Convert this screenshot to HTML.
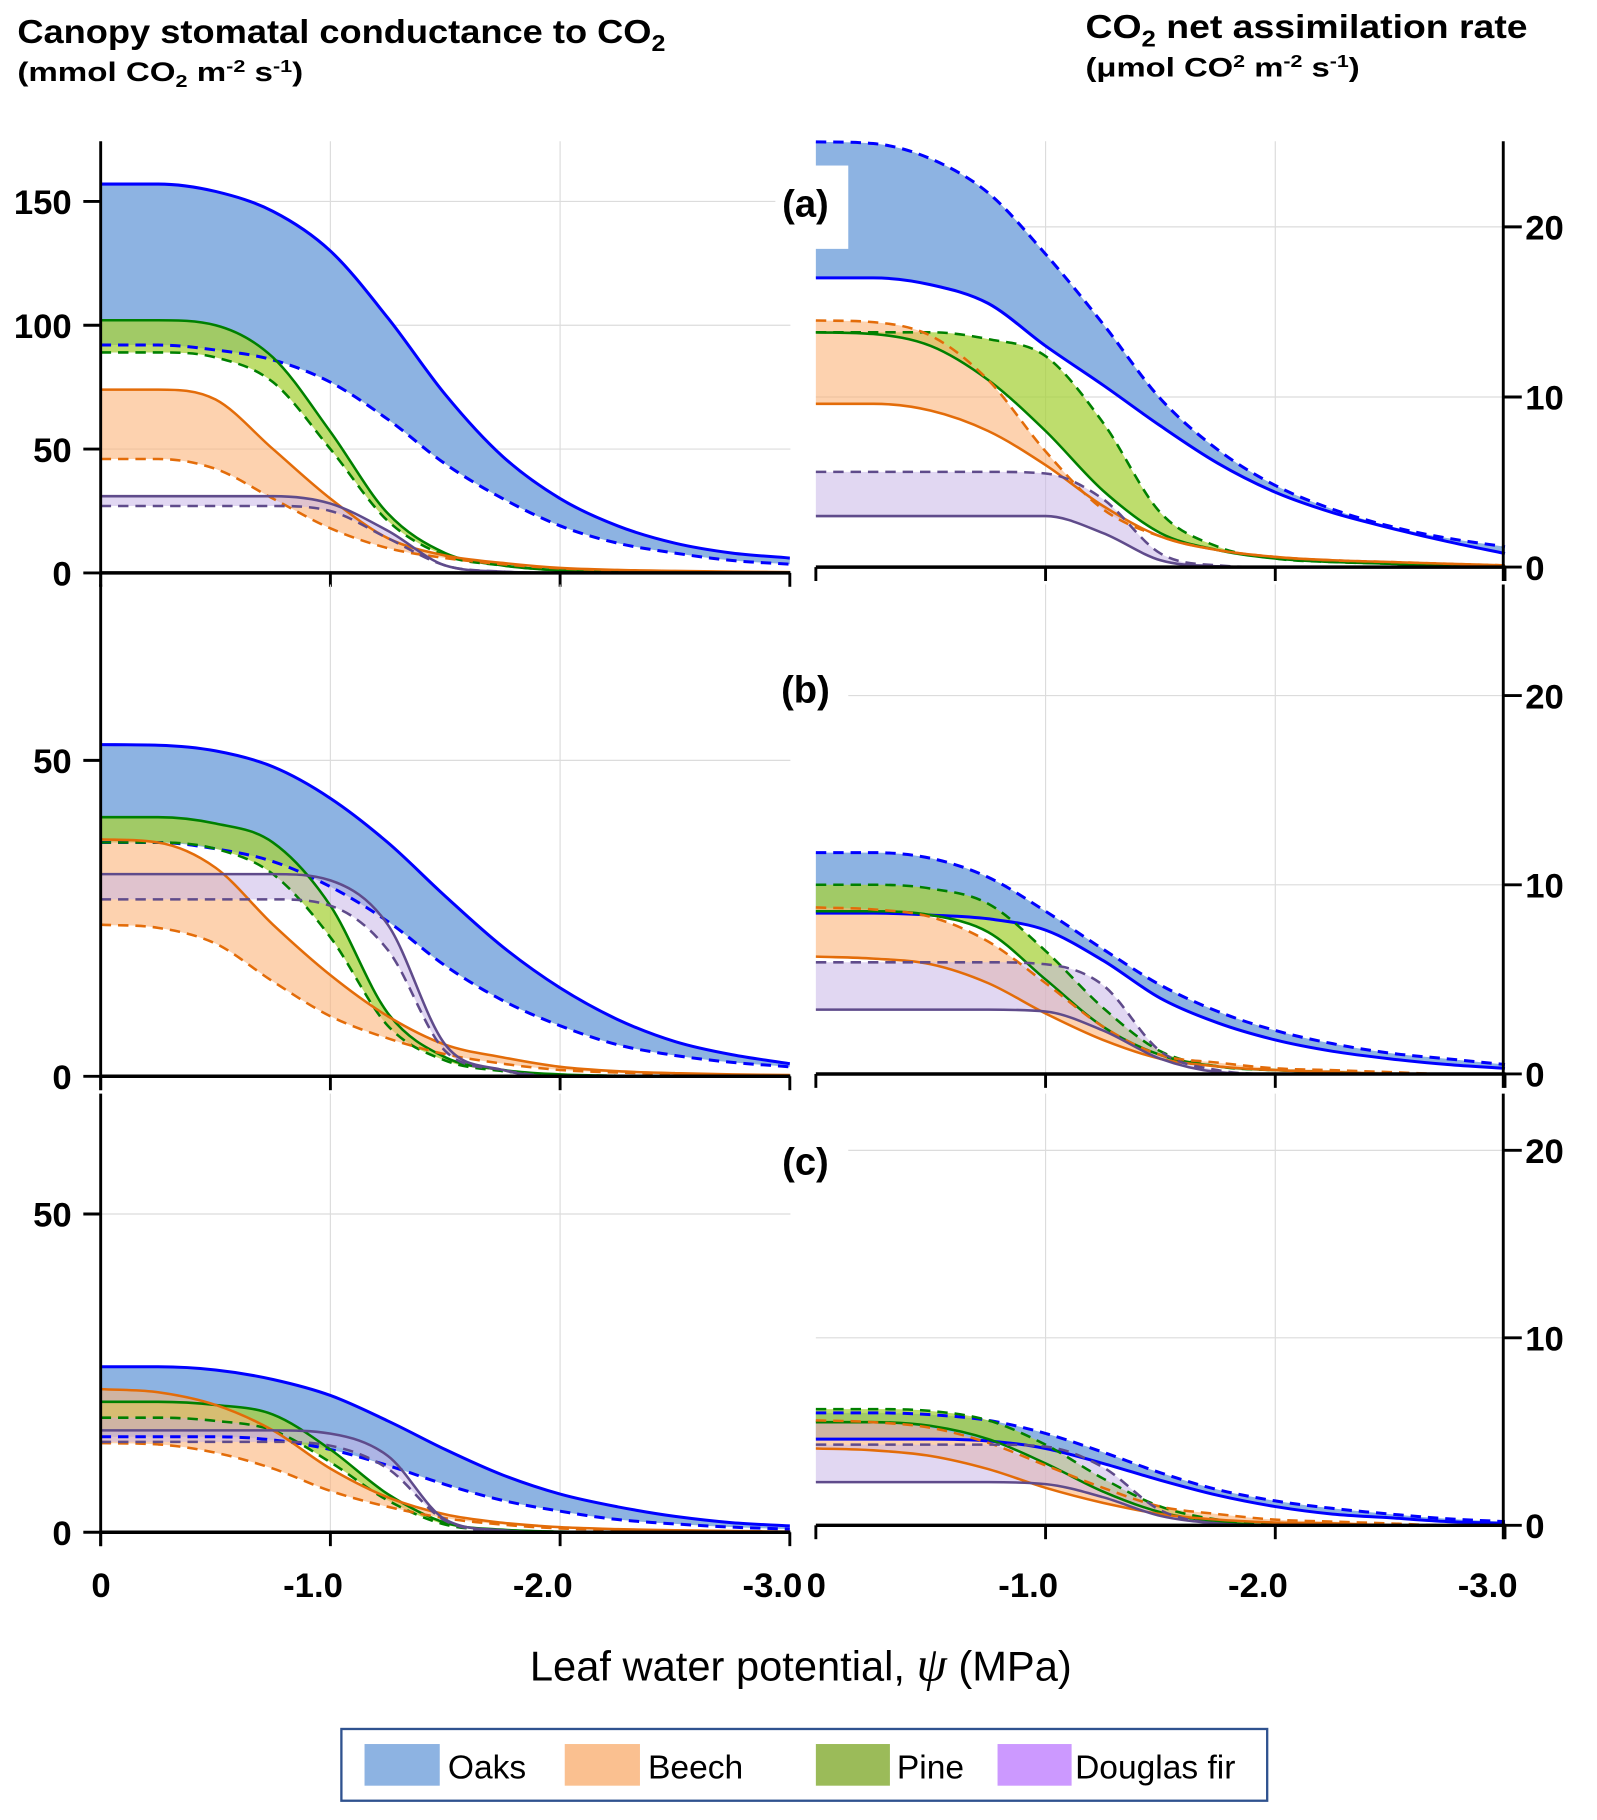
<!DOCTYPE html>
<html><head><meta charset="utf-8"><style>
html,body{margin:0;padding:0;background:#fff;}
svg{display:block;}
text{font-family:"Liberation Sans",Arial,sans-serif;}
</style></head><body>
<svg id="fig" xmlns="http://www.w3.org/2000/svg" width="1597" height="1820" viewBox="0 0 1380 1572.6">
<rect width="1380" height="1573" fill="#fff"/>
<g>
<text x="15" y="37" font-size="29" font-weight="bold" textLength="560" lengthAdjust="spacingAndGlyphs">Canopy stomatal conductance to CO<tspan font-size="20" dy="7">2</tspan></text>
<text x="15" y="70" font-size="23" font-weight="bold" textLength="247" lengthAdjust="spacingAndGlyphs">(mmol CO<tspan font-size="15" dy="5">2</tspan><tspan dy="-5"> m</tspan><tspan font-size="15" dy="-8">-2</tspan><tspan dy="8"> s</tspan><tspan font-size="15" dy="-8">-1</tspan><tspan dy="8">)</tspan></text>
</g>
<g>
<text x="938" y="33" font-size="29" font-weight="bold" textLength="382" lengthAdjust="spacingAndGlyphs">CO<tspan font-size="20" dy="7">2</tspan><tspan dy="-7"> net assimilation rate</tspan></text>
<text x="938" y="66" font-size="23" font-weight="bold" textLength="237" lengthAdjust="spacingAndGlyphs">(μmol CO<tspan font-size="15" dy="-8">2</tspan><tspan dy="8"> m</tspan><tspan font-size="15" dy="-8">-2</tspan><tspan dy="8"> s</tspan><tspan font-size="15" dy="-8">-1</tspan><tspan dy="8">)</tspan></text>
</g>
<g id="plots"></g>
<g id="labels"></g>
<text x="692" y="1452" font-size="36" text-anchor="middle">Leaf water potential,  <tspan font-family="Liberation Serif,serif" font-style="italic" font-size="42">ψ</tspan> (MPa)</text>
<g>
<rect x="295" y="1494" width="800" height="62" fill="#fff" stroke="#2f528f" stroke-width="2"/>
<g><rect x="315" y="1507" width="65" height="36" fill="#8db3e2"/><text x="387" y="1537" font-size="29">Oaks</text></g>
<g><rect x="488" y="1507" width="65" height="36" fill="#fac090"/><text x="560" y="1537" font-size="29">Beech</text></g>
<g><rect x="705" y="1507" width="64" height="36" fill="#9bbb59"/><text x="775" y="1537" font-size="29">Pine</text></g>
<g><rect x="862" y="1507" width="64" height="36" fill="#cc99ff"/><text x="929" y="1537" font-size="29">Douglas fir</text></g>
</g>
</svg>
<script>
// leaf water potential magnitudes (MPa, plotted as negative)
const psi = [0,0.25,0.5,0.75,1.0,1.25,1.5,1.75,2.0,2.25,2.5,2.75,3.0];
// Panel (a) left: stomatal conductance
const aL_oaks_hi = [157,157,154,146,130,103,72,47,30,19,12,8,6];
const aL_oaks_lo = [92,92,90,86,77,62,44,30,19,12,8,5,3.5];
const aL_pine_hi = [102,102,100,87,57,24,8,3,1,0.5,0.3,0.2,0.1];
const aL_pine_lo = [89,89,87,77,50,21,7,3,1,0.5,0.3,0.2,0.1];
const aL_beech_hi = [74,74,70,50,30,14,7,4,2,1.2,0.8,0.5,0.3];
const aL_beech_lo = [46,46,42,30,18,10,6,3.5,1.8,1,0.6,0.4,0.2];
const aL_fir_hi = [31,31,31,31,28,17,3,0.5,0,0,0,0,0];
const aL_fir_lo = [27,27,27,27,25,14,3,0.5,0,0,0,0,0];
// Panel (a) right: net assimilation
const aR_oaks_hi = [25,24.9,24,22,18.4,14.3,9.9,6.9,4.8,3.4,2.4,1.7,1.2];
const aR_oaks_lo = [17,17,16.6,15.5,13,10.7,8.3,6.1,4.4,3.2,2.3,1.5,0.8];
const aR_pine_hi = [13.8,13.8,13.8,13.4,12.4,8.5,3.2,1.2,0.5,0.3,0.2,0.1,0];
const aR_pine_lo = [13.8,13.7,13,11,8,4.5,2,1,0.5,0.3,0.2,0.1,0];
const aR_beech_hi = [14.5,14.4,13.6,11,6.8,3.4,1.8,1,0.6,0.4,0.3,0.2,0.1];
const aR_beech_lo = [9.6,9.6,9.2,8,6,3.6,1.8,1,0.6,0.4,0.3,0.2,0.1];
const aR_fir_hi = [5.6,5.6,5.6,5.6,5.5,4,0.8,0.1,0,0,0,0,0];
const aR_fir_lo = [3,3,3,3,3,2,0.4,0.05,0,0,0,0,0];
// Panel (b) left
const bL_oaks_hi = [52.5,52.4,51.5,49,44,37,28.5,20.5,14,9,5.5,3.4,2];
const bL_oaks_lo = [37,37,36,34,30,24.5,17.5,12,8,5,3.3,2.2,1.5];
const bL_pine_hi = [41,41,40,37,27,10,3,1,0.3,0.1,0,0,0];
const bL_pine_lo = [37,37,36,32,22,8,2.5,0.8,0.2,0.1,0,0,0];
const bL_beech_hi = [37.5,37,33,24,16,9.5,5,3,1.5,0.8,0.5,0.3,0.2];
const bL_beech_lo = [24,23.5,21,15,9.5,6,3.5,2,1,0.6,0.4,0.2,0.1];
const bL_fir_hi = [32,32,32,32,31,24,5,1,0,0,0,0,0];
const bL_fir_lo = [28,28,28,28,27,20,4,1,0,0,0,0,0];
// Panel (b) right
const bR_oaks_hi = [11.7,11.7,11.4,10.4,8.6,6.6,4.7,3.3,2.3,1.6,1.1,0.8,0.5];
const bR_oaks_lo = [8.5,8.5,8.4,8.2,7.6,6,4,2.7,1.8,1.2,0.8,0.5,0.3];
const bR_pine_hi = [10,10,9.8,9,6.5,3.5,1.2,0.4,0.2,0.1,0,0,0];
const bR_pine_lo = [8.6,8.6,8.4,7.5,5,2.5,1,0.4,0.2,0.1,0,0,0];
const bR_beech_hi = [8.8,8.7,8.3,7,4.8,2.5,1,0.6,0.3,0.2,0.1,0,0];
const bR_beech_lo = [6.2,6.1,5.8,4.8,3.2,1.8,0.8,0.4,0.2,0.1,0,0,0];
const bR_fir_hi = [5.9,5.9,5.9,5.9,5.8,4.7,1.2,0.2,0,0,0,0,0];
const bR_fir_lo = [3.4,3.4,3.4,3.4,3.3,2.3,0.8,0.1,0,0,0,0,0];
// Panel (c) left
const cL_oaks_hi = [26,26,25.5,24,21.5,17.5,13,9,6,4,2.5,1.5,1];
const cL_oaks_lo = [15,15,15,14.5,13,10.5,7.5,5,3.3,2,1.3,0.8,0.5];
const cL_pine_hi = [20.5,20.5,20,18.5,13,6,1.5,0.4,0.1,0,0,0,0];
const cL_pine_lo = [18,18,17.5,16,11,5,1.2,0.3,0.1,0,0,0,0];
const cL_beech_hi = [22.5,22,20,16,10,5.5,2.8,1.5,0.8,0.5,0.3,0.2,0.1];
const cL_beech_lo = [14,13.8,12.5,10,6.5,4,2.2,1.2,0.6,0.4,0.2,0.1,0];
const cL_fir_hi = [16,16,16,16,15.5,12,2,0.3,0,0,0,0,0];
const cL_fir_lo = [14.2,14.2,14.2,14.2,13.6,10,1.8,0.2,0,0,0,0,0];
// Panel (c) right
const cR_oaks_hi = [6,6,5.9,5.6,4.9,3.9,2.8,1.9,1.3,0.9,0.6,0.35,0.2];
const cR_oaks_lo = [4.6,4.6,4.6,4.5,4.1,3.3,2.4,1.6,1,0.6,0.4,0.2,0.1];
const cR_pine_hi = [6.2,6.2,6.1,5.6,4.3,2.5,1,0.3,0.1,0,0,0,0];
const cR_pine_lo = [5.5,5.5,5.3,4.6,3.3,1.8,0.7,0.2,0,0,0,0,0];
const cR_beech_hi = [5.6,5.5,5.2,4.4,3.2,2,1,0.6,0.3,0.2,0.1,0,0];
const cR_beech_lo = [4.1,4,3.7,3,2,1.2,0.6,0.3,0.15,0.1,0,0,0];
const cR_fir_hi = [4.3,4.3,4.3,4.3,4.2,3.1,0.8,0.1,0,0,0,0,0];
const cR_fir_lo = [2.3,2.3,2.3,2.3,2.2,1.5,0.5,0.1,0,0,0,0,0];
// tick labels
const xTickLabels = ['0','-1.0','-2.0','-3.0'];
const xTickValues = [0,1,2,3];
const aLTicks = [0,50,100,150];
const bLTicks = [0,50];
const cLTicks = [0,50];
const aRTicks = [0,10,20];
const bRTicks = [0,10,20];
const cRTicks = [0,10,20];

const data = {
 aL:{oaks:[aL_oaks_hi,aL_oaks_lo],pine:[aL_pine_hi,aL_pine_lo],beech:[aL_beech_hi,aL_beech_lo],fir:[aL_fir_hi,aL_fir_lo]},
 aR:{oaks:[aR_oaks_hi,aR_oaks_lo],pine:[aR_pine_hi,aR_pine_lo],beech:[aR_beech_hi,aR_beech_lo],fir:[aR_fir_hi,aR_fir_lo]},
 bL:{oaks:[bL_oaks_hi,bL_oaks_lo],pine:[bL_pine_hi,bL_pine_lo],beech:[bL_beech_hi,bL_beech_lo],fir:[bL_fir_hi,bL_fir_lo]},
 bR:{oaks:[bR_oaks_hi,bR_oaks_lo],pine:[bR_pine_hi,bR_pine_lo],beech:[bR_beech_hi,bR_beech_lo],fir:[bR_fir_hi,bR_fir_lo]},
 cL:{oaks:[cL_oaks_hi,cL_oaks_lo],pine:[cL_pine_hi,cL_pine_lo],beech:[cL_beech_hi,cL_beech_lo],fir:[cL_fir_hi,cL_fir_lo]},
 cR:{oaks:[cR_oaks_hi,cR_oaks_lo],pine:[cR_pine_hi,cR_pine_lo],beech:[cR_beech_hi,cR_beech_lo],fir:[cR_fir_hi,cR_fir_lo]}
};
const ticks = {aL:aLTicks,bL:bLTicks,cL:cLTicks,aR:aRTicks,bR:bRTicks,cR:cRTicks};
// layout
const panels = [
 {id:'aL',side:'L',x0:87,y0:495,k:2.14,top:122},
 {id:'aR',side:'R',x0:705,y0:490,k:14.7,top:122},
 {id:'bL',side:'L',x0:87,y0:930,k:5.46,top:505},
 {id:'bR',side:'R',x0:705,y0:928,k:16.35,top:505},
 {id:'cL',side:'L',x0:87,y0:1324,k:5.5,top:945},
 {id:'cR',side:'R',x0:705,y0:1318,k:16.2,top:945}
];
const XK = 198.5, PW = 596;
const style = {
 oaks:{fill:'#8db3e2',op:1,line:'#0000ff',w:2.6},
 pine:{fill:'#a8d13c',op:0.75,line:'#008000',w:2.2},
 beech:{fill:'#fbb47a',op:0.6,line:'#e36c09',w:2.2},
 fir:{fill:'#c9b6e8',op:0.55,line:'#5f4b8b',w:2.2}
};
const NS='http://www.w3.org/2000/svg';
const root=document.getElementById('plots');
const labRoot=document.getElementById('labels');
function mk(tag,attrs,parent){const e=document.createElementNS(NS,tag);for(const k in attrs)e.setAttribute(k,attrs[k]);(parent||root).appendChild(e);return e;}
// monotone cubic (Fritsch-Carlson) path segments
function mono(pts){
 const n=pts.length,dx=[],m=[],t=[];
 for(let i=0;i<n-1;i++){dx[i]=pts[i+1][0]-pts[i][0];m[i]=(pts[i+1][1]-pts[i][1])/dx[i];}
 t[0]=m[0];t[n-1]=m[n-2];
 for(let i=1;i<n-1;i++){t[i]=(m[i-1]*m[i]<=0)?0:(m[i-1]+m[i])/2;}
 for(let i=0;i<n-1;i++){
  if(m[i]===0){t[i]=0;t[i+1]=0;continue;}
  const a=t[i]/m[i],b=t[i+1]/m[i],s=a*a+b*b;
  if(s>9){const tau=3/Math.sqrt(s);t[i]=tau*a*m[i];t[i+1]=tau*b*m[i];}
 }
 let d='';
 for(let i=0;i<n-1;i++){
  const h=dx[i]/3;
  d+=' C'+(pts[i][0]+h).toFixed(1)+','+(pts[i][1]+t[i]*h).toFixed(1)+' '+(pts[i+1][0]-h).toFixed(1)+','+(pts[i+1][1]-t[i+1]*h).toFixed(1)+' '+pts[i+1][0].toFixed(1)+','+pts[i+1][1].toFixed(1);
 }
 return d;
}
function pathOf(pts){return 'M'+pts[0][0].toFixed(1)+','+pts[0][1].toFixed(1)+mono(pts);}
function pathRev(pts){ // pts in decreasing x: flip to use monotone then reverse via sign
 const flipped=pts.map(p=>[-p[0],p[1]]);
 return mono(flipped).replace(/-?\d+\.?\d*,/g,s=>{return s;}).split(' ').map(tok=>{
  if(!tok)return tok;
  const c=tok[0]==='C'?'C':'';const body=c?tok.slice(1):tok;
  const [x,y]=body.split(',');return c+(-parseFloat(x)).toFixed(1)+','+y;}).join(' ');
}
const labels={aL:'(a)',bL:'(b)',cL:'(c)'};
const labelY={aL:175,bL:595,cL:1003};
panels.forEach(p=>{
 const g=mk('g',{});
 
 
 const xs=v=>p.x0+v*XK, ys=v=>p.y0-v*p.k;
 [1,2].forEach(v=>{const l=mk('line',{x1:xs(v),x2:xs(v),y1:p.top,y2:p.y0,stroke:'#dcdcdc','stroke-width':1},g);
  
  });
 ticks[p.id].forEach(v=>{if(v===0)return;const l=mk('line',{x1:p.x0,x2:p.x0+PW,y1:ys(v),y2:ys(v),stroke:'#dcdcdc','stroke-width':1},g);
  
  });
 const order=['oaks','pine','beech','fir'];
 order.forEach(sp=>{
  const [hi,lo]=data[p.id][sp];const st=style[sp];
  const ph=psi.map((x,i)=>[xs(x),ys(hi[i])]);
  const rev=psi.map((x,i)=>[xs(x),ys(lo[i])]).reverse();
  const d=pathOf(ph)+' L'+rev[0][0].toFixed(1)+','+rev[0][1].toFixed(1)+pathRev(rev)+' Z';
  const a=mk('path',{d:d,fill:st.fill,'fill-opacity':st.op,stroke:'none'},g);
  
  
 });
 order.forEach(sp=>{
  const [hi,lo]=data[p.id][sp];const st=style[sp];
  const solid=p.side==='L'?hi:lo, dashed=p.side==='L'?lo:hi;
  const l1=mk('path',{d:pathOf(psi.map((x,i)=>[xs(x),ys(solid[i])])),fill:'none',stroke:st.line,'stroke-width':st.w},g);
  
  
  const l2=mk('path',{d:pathOf(psi.map((x,i)=>[xs(x),ys(dashed[i])])),fill:'none',stroke:st.line,'stroke-width':st.w,'stroke-dasharray':'9,6'},g);
  
  
 });
 const base=mk('line',{x1:p.x0,x2:p.x0+PW,y1:p.y0,y2:p.y0,stroke:'#000','stroke-width':3},g);
 
 
 xTickValues.forEach(v=>{const t=mk('line',{x1:xs(v),x2:xs(v),y1:p.y0,y2:p.y0+12,stroke:'#000','stroke-width':2.5},g);
  
  });
 const ax=p.side==='L'?p.x0:p.x0+PW-2;
 const yl=mk('line',{x1:ax,x2:ax,y1:p.top,y2:p.y0+12,stroke:'#000','stroke-width':2.5},g);
 
 
 ticks[p.id].forEach(v=>{
  const tx=p.side==='L'?[ax-15,ax]:[ax,ax+16];
  const t=mk('line',{x1:tx[0],x2:tx[1],y1:ys(v),y2:ys(v),stroke:'#000','stroke-width':2.5},g);
  
  
  const lab=mk('text',{x:p.side==='L'?62:1318,y:ys(v)+11,'font-size':30,'font-weight':'bold','text-anchor':p.side==='L'?'end':'start'},g);
  lab.textContent=v;
  
  
 });
 if(p.side==='L'){
  const wb=mk('rect',{x:670,y:labelY[p.id]-32,width:63,height:72,fill:'#fff'},labRoot);
  
  
  const pl=mk('text',{x:696,y:labelY[p.id]+12,'font-size':33,'font-weight':'bold','text-anchor':'middle'},labRoot);
  pl.textContent=labels[p.id];
  
  
 }
 if(p.id[0]==='c'){
  xTickLabels.forEach((s,i)=>{
   const t=mk('text',{x:i===0?xs(0)-8:xs(xTickValues[i])-15,y:1380,'font-size':30,'font-weight':'bold','text-anchor':i===0?'start':'middle'},g);
   t.textContent=s;
   
   
  });
 }
});
</script>
</body></html>
